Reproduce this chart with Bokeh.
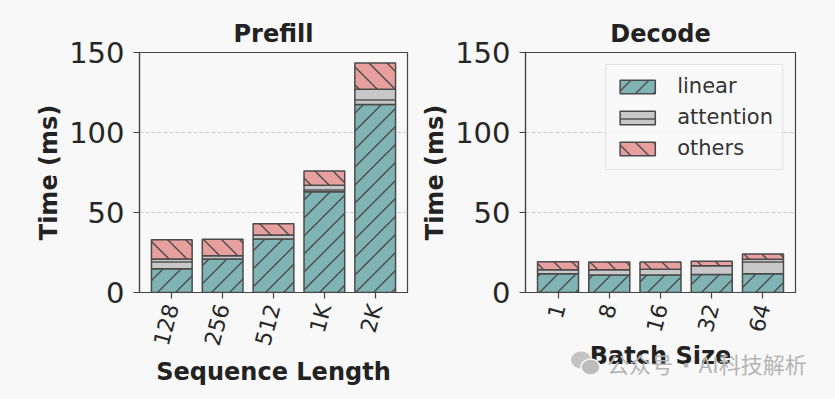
import math
import base64
from bokeh.plotting import figure
from bokeh.models import ColumnDataSource, FactorRange, Range1d, FixedTicker, ImageURLTexture, Div
from bokeh.layouts import row, column
from bokeh.embed import file_html
from bokeh.resources import INLINE

# ---- data (ms) ----
prefill_lengths = ["128", "256", "512", "1K", "2K"]
prefill_linear = [14.8, 21.0, 33.5, 63.0, 117.5]
prefill_attention = [6.2, 2.0, 2.5, 4.0, 9.5]
prefill_others = [12.0, 10.3, 7.0, 9.0, 16.5]

decode_batch = ["1", "8", "16", "32", "64"]
decode_linear = [11.7, 11.0, 11.0, 11.3, 11.7]
decode_attention = [2.5, 3.2, 3.6, 5.4, 9.1]
decode_others = [5.0, 4.8, 4.4, 2.9, 3.2]

y_ticks = [0, 50, 100, 150]
series_names = ["linear", "attention", "others"]
series_colors = ["#80b4b4", "#c8c8c8", "#e8a09e"]
watermark_text = "公众号 · AI科技解析"

BG = "#f8f8f8"
FONT = "DejaVu Sans"
DARK = "#262626"
HATCH = "#4a4a4a"


def svg_tile(path):
    s = ('<svg xmlns="http://www.w3.org/2000/svg" width="18" height="18">'
         '<path d="%s" stroke="%s" stroke-width="1.4" fill="none"/></svg>' % (path, HATCH))
    return "data:image/svg+xml;base64," + base64.b64encode(s.encode()).decode()


tex_right = ImageURLTexture(url=svg_tile("M-2,20 L20,-2 M-2,2 L2,-2 M16,20 L20,16"), repetition="repeat")
tex_left = ImageURLTexture(url=svg_tile("M-2,-2 L20,20 M-2,16 L2,20 M16,-2 L20,2"), repetition="repeat")
hatch_extra = {"rdiag": tex_right, "ldiag": tex_left}
series_hatch = ["rdiag", "-", "ldiag"]


def make_fig(title, cats, linear, attention, others, xlabel, width,
             border_left, frame_width, border_right, legend=False):
    n = len(cats)
    t1 = list(linear)
    t2 = [a + b for a, b in zip(linear, attention)]
    t3 = [a + b + c for a, b, c in zip(linear, attention, others)]
    src = ColumnDataSource(dict(x=cats, b1=[0.0] * n, t1=t1, t2=t2, t3=t3,
                                h1=[series_hatch[0]] * n, h2=[series_hatch[1]] * n,
                                h3=[series_hatch[2]] * n))

    p = figure(x_range=FactorRange(factors=cats, range_padding=0.054),
               y_range=Range1d(0, 150),
               width=width, height=391,
               frame_width=frame_width, frame_height=240,
               min_border_left=border_left, min_border_right=border_right,
               min_border_top=52, min_border_bottom=99,
               output_backend="svg", toolbar_location=None,
               background_fill_color=BG, border_fill_color=BG)

    bounds = [("b1", "t1", "h1"), ("t1", "t2", "h2"), ("t2", "t3", "h3")]
    for (bot, top, hcol), name, col in zip(bounds, series_names, series_colors):
        kw = dict(x="x", bottom=bot, top=top, width=0.8, source=src,
                  fill_color=col, line_color=HATCH, line_width=1.5,
                  hatch_pattern=hcol, hatch_extra=hatch_extra,
                  hatch_color=HATCH, hatch_weight=1.4, hatch_scale=18)
        if legend:
            kw["legend_label"] = name
        p.vbar(**kw)

    p.title.text = title
    p.title.text_font = FONT
    p.title.text_font_size = "24px"
    p.title.text_font_style = "bold"
    p.title.text_color = "#222222"
    p.title.align = "center"

    p.outline_line_color = "#444444"
    p.outline_line_width = 1.2
    p.outline_line_alpha = 1.0

    p.xgrid.grid_line_color = None
    p.ygrid.grid_line_color = "#cccccc"
    p.ygrid.grid_line_dash = "4 2"
    p.ygrid.grid_line_width = 1
    p.yaxis.ticker = FixedTicker(ticks=y_ticks)

    for ax in (p.xaxis[0], p.yaxis[0]):
        ax.axis_line_color = "#444444"
        ax.axis_line_width = 1.2
        ax.major_tick_line_color = "#444444"
        ax.major_tick_line_width = 1.2
        ax.major_tick_in = 0
        ax.major_tick_out = 6
        ax.minor_tick_line_color = None
        ax.major_label_text_font = FONT
        ax.major_label_text_color = DARK
        ax.axis_label_text_font = FONT
        ax.axis_label_text_font_style = "bold"
        ax.axis_label_text_font_size = "24px"
        ax.axis_label_text_color = "#222222"

    p.yaxis.major_label_text_font_size = "29px"
    p.yaxis.axis_label = "Time (ms)"
    p.yaxis.axis_label_standoff = 3
    p.yaxis.major_label_standoff = 9

    p.xaxis.major_label_text_font_size = "22px"
    p.xaxis.major_label_orientation = math.radians(75)
    p.xaxis.axis_label = xlabel
    p.xaxis.axis_label_standoff = 3
    p.xaxis.major_label_standoff = 6

    if legend:
        lg = p.legend[0]
        lg.location = "top_right"
        lg.margin = 12
        lg.padding = 9
        lg.spacing = 7
        lg.glyph_width = 44
        lg.glyph_height = 17
        lg.label_height = 21
        lg.label_standoff = 18
        lg.label_text_font = FONT
        lg.label_text_font_size = "21px"
        lg.label_text_color = "#333333"
        lg.border_line_color = "#d0d0d0"
        lg.border_line_width = 1
        lg.background_fill_color = "#f8f8f8"
        lg.background_fill_alpha = 0.9
    return p


p1 = make_fig("Prefill", prefill_lengths, prefill_linear, prefill_attention,
              prefill_others, "Sequence Length", 418, 139, 268, 11)
p2 = make_fig("Decode", decode_batch, decode_linear, decode_attention,
              decode_others, "Batch Size", 409, 107, 270, 32, legend=True)

icon = ('<svg width="30" height="25" viewBox="0 0 30 25" style="flex:none">'
        '<ellipse cx="10" cy="9" rx="10" ry="8.5" fill="#c4c4c4"/>'
        '<ellipse cx="19.5" cy="16" rx="9.5" ry="8" fill="#bdbdbd" stroke="#f8f8f8" stroke-width="1.5"/>'
        '</svg>')
wm = Div(text=('<div style="display:flex;align-items:center;white-space:nowrap;">' + icon +
               '<span style="margin-left:6px;word-spacing:-3px;">' + watermark_text + '</span></div>'),
         width=262, height=30, margin=(-43, 0, 0, 571),
         styles={"font-family": "Noto Sans CJK SC", "font-size": "22px",
                 "color": "#b4b4b4", "line-height": "30px", "z-index": "10"})

layout = column(row(p1, p2, spacing=0), wm, spacing=0,
                styles={"background-color": BG})

try:
    html = file_html(layout, INLINE, title="chart",
                     template="{% block postamble %}<style>html, body {background-color: #f8f8f8;}</style>{% endblock %}")
except Exception:
    html = file_html(layout, INLINE, title="chart")
open("out.html", "w").write(html)
